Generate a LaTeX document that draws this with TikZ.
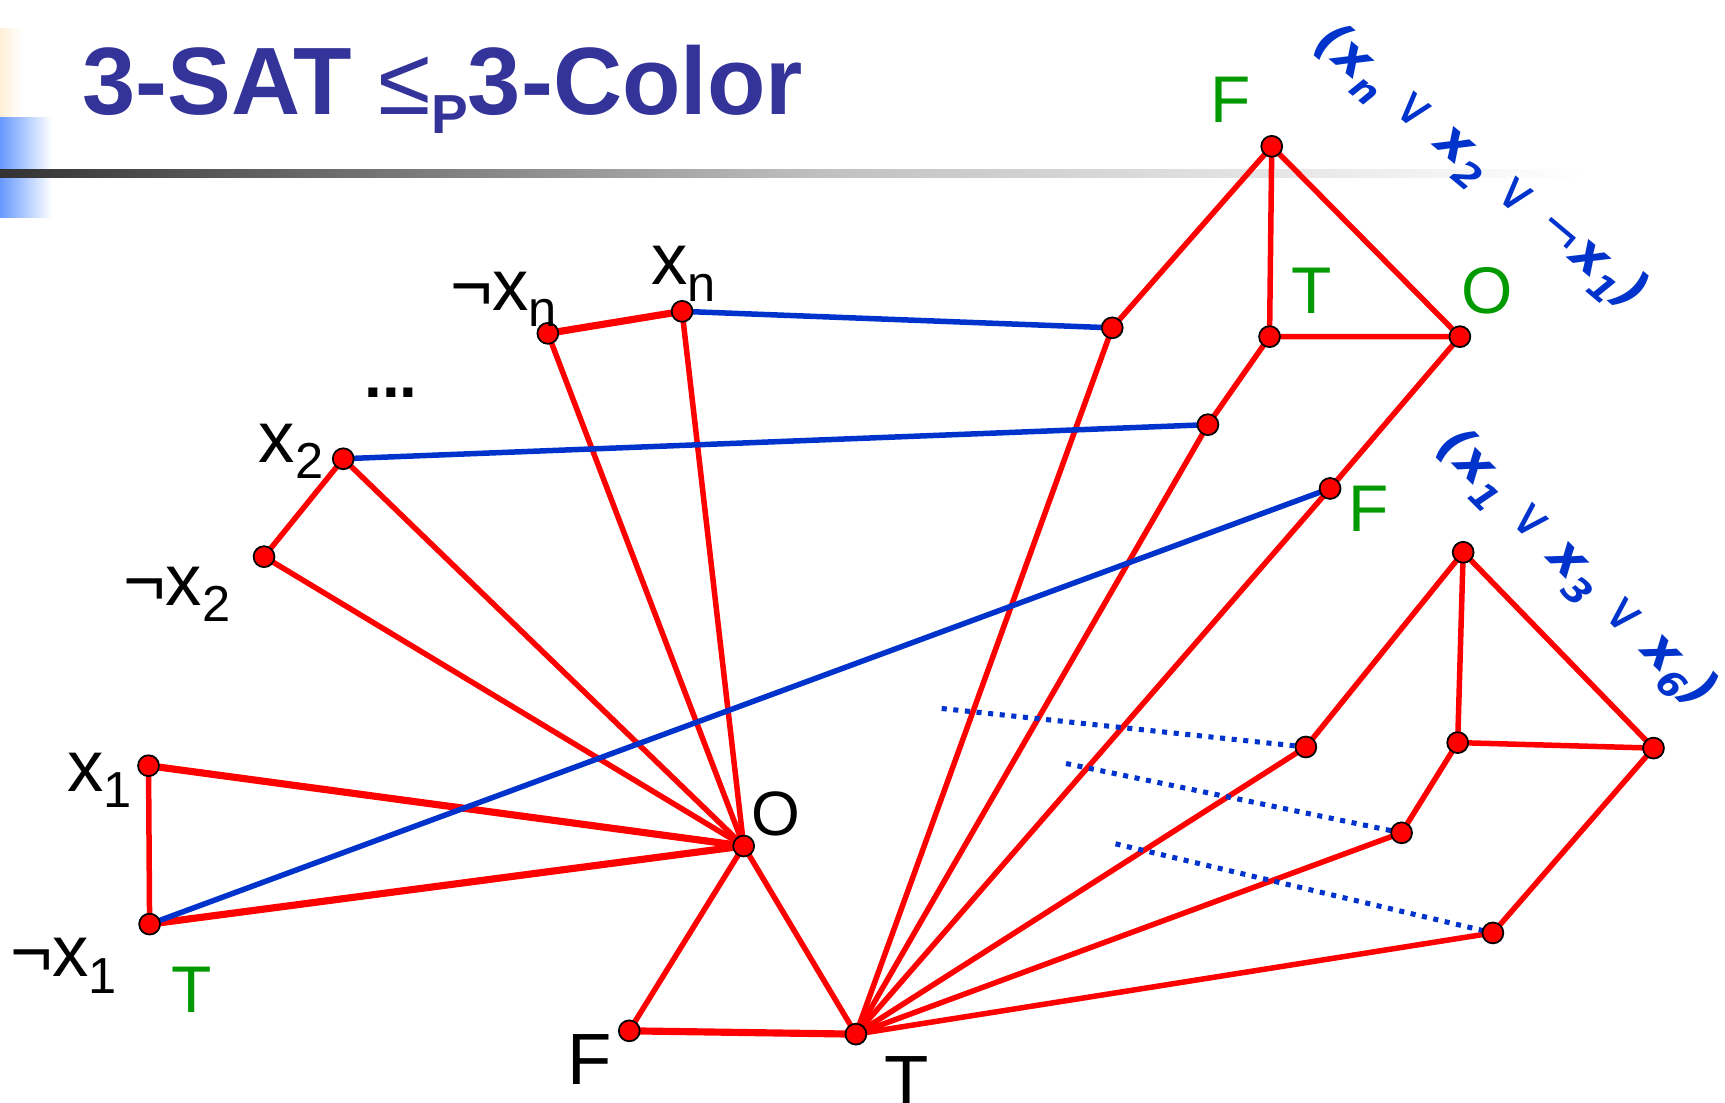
\documentclass[tikz,border=0pt]{standalone}
\usepackage{fontspec}
\setmainfont{Liberation Sans}
\newfontfamily\djv{DejaVu Sans}
\pgfdeclarelayer{bg}
\pgfsetlayers{bg,main}
\definecolor{tblue}{RGB}{51,51,153}
\definecolor{eblue}{RGB}{0,51,204}
\definecolor{lgreen}{RGB}{0,153,0}
\definecolor{beige}{RGB}{255,240,215}
\definecolor{skyb}{RGB}{102,153,255}
\definecolor{dgray}{RGB}{51,51,51}
\definecolor{mgray}{RGB}{192,192,192}
\newcommand{\sbx}[1]{\raisebox{-15pt}{\fontsize{46}{46}\selectfont #1}}
\newcommand{\sbb}[1]{\raisebox{-12pt}{\fontsize{33}{33}\selectfont #1}}
\newcommand{\vor}{{\mdseries\upshape ∨}}
\newcommand{\vneg}{{\mdseries\upshape ¬}}
\begin{document}
\begin{tikzpicture}[x=1pt,y=-1pt,
  vtx/.style={circle, fill=red, draw=black, line width=1.6pt, minimum size=19pt, inner sep=0pt},
  redl/.style={draw=red, line width=5pt},
  redt/.style={draw=red, line width=6.5pt},
  bluel/.style={draw=eblue, line width=5pt},
  dotl/.style={draw=eblue, line width=4.6pt, dash pattern=on 4.6pt off 6pt},
  lbl/.style={inner sep=0pt, anchor=base west, font=\fontsize{66}{70}\selectfont},
  olbl/.style={inner sep=0pt, anchor=base west, font=\fontsize{57}{60}\selectfont},
  glbl/.style={inner sep=0pt, anchor=base west, text=lgreen, font=\fontsize{60}{64}\selectfont},
  clause/.style={inner sep=0pt, text=eblue, font=\djv\bfseries\itshape\fontsize{47}{50}\selectfont}]
\useasboundingbox (0,0) rectangle (1568,1002);

% title
\node[anchor=base west, inner sep=0pt, text=tblue, font=\bfseries\fontsize{87}{90}\selectfont] (title) at (75,104)
  {3-SAT {\mdseries ≤}\raisebox{-17pt}{\fontsize{50}{50}\selectfont P}3-Color};

% vertices
\node[vtx] (nxn) at (498,303) {};
\node[vtx] (xn) at (620,283) {};
\node[vtx] (x2) at (312,417) {};
\node[vtx] (nx2) at (240,506) {};
\node[vtx] (x1) at (135,696) {};
\node[vtx] (nx1) at (136,840) {};
\node[vtx] (O) at (676,769) {};
\node[vtx] (F) at (572,937) {};
\node[vtx] (T) at (778,940) {};

\node[vtx] (aF) at (1156,133) {};
\node[vtx] (aT) at (1154,306) {};
\node[vtx] (aO) at (1327,306) {};
\node[vtx] (a1) at (1011,298) {};
\node[vtx] (a2) at (1098,386) {};
\node[vtx] (a3) at (1209,444) {};

\node[vtx] (bF) at (1330,502) {};
\node[vtx] (bT) at (1325,675) {};
\node[vtx] (bO) at (1503,680) {};
\node[vtx] (b1) at (1187,679) {};
\node[vtx] (b2) at (1274,757) {};
\node[vtx] (b3) at (1357,848) {};

\coordinate (d1) at (856,644);
\coordinate (d2) at (969,694);
\coordinate (d3) at (1014,767);

% labels
\node[lbl] (lnxn) at (409,282) {¬x\sbx{n}};
\node[lbl] (lxn) at (592,259) {x\sbx{n}};
\node[lbl, font=\bfseries\fontsize{58}{60}\selectfont] (ldots) at (331,361) {...};
\node[lbl] (lx2) at (235,420) {x\sbx{2}};
\node[lbl] (lnx2) at (112,550) {¬x\sbx{2}};
\node[lbl] (lx1) at (61,719) {x\sbx{1}};
\node[lbl] (lnx1) at (9,888) {¬x\sbx{1}};
\node[olbl] (lO) at (683,759) {O};
\node[lbl] (lF) at (516,986) {F};
\node[lbl] (lT) at (804,1006) {T};

\node[glbl] (gT1) at (156,920) {T};
\node[glbl] (gF1) at (1100,111) {F};
\node[glbl] (gT2) at (1174,285) {T};
\node[glbl] (gO2) at (1328,285) {O};
\node[glbl] (gF3) at (1226,483) {F};

\node[clause, rotate=-40] (c1) at (1345,153) {(x\sbb{n} \vor{} x\sbb{2} \vor{} \vneg x\sbb{1})};
\node[clause, rotate=-45] (c2) at (1432,518) {(x\sbb{1} \vor{} x\sbb{3} \vor{} x\sbb{6})};

\begin{pgfonlayer}{bg}
  \shade[left color=beige, right color=white] (0,26) rectangle (20,106);
  \shade[left color=skyb, right color=white] (0,107) rectangle (47,155);
  \shade[left color=skyb, right color=white] (0,162) rectangle (47,198);
  \shade[left color=dgray, right color=mgray] (0,154) rectangle (745,161);
  \shade[left color=mgray, right color=white] (745,154) rectangle (1440,161);

  % variable gadget
  \draw[redl] (O.center) -- (xn.center);
  \draw[redl] (O.center) -- (nxn.center);
  \draw[redl] (O.center) -- (x2.center);
  \draw[redl] (O.center) -- (nx2.center);
  \draw[redt] (O.center) -- (x1.center);
  \draw[redt] (O.center) -- (nx1.center);
  \draw[redl] (x1.center) -- (nx1.center);
  \draw[redl] (x2.center) -- (nx2.center);
  \draw[redt] (xn.center) -- (nxn.center);
  \draw[redl] (O.center) -- (F.center);
  \draw[redl] (O.center) -- (T.center);
  \draw[redt] (F.center) -- (T.center);
  % T to clause inputs
  \foreach \n in {a1,a2,a3,b1,b2,b3} \draw[redl] (T.center) -- (\n.center);
  % clause gadgets
  \draw[redl] (aF.center) -- (aT.center) -- (aO.center) -- cycle;
  \draw[redl] (aF.center) -- (a1.center);
  \draw[redl] (aT.center) -- (a2.center);
  \draw[redl] (aO.center) -- (a3.center);
  \draw[redl] (bF.center) -- (bT.center) -- (bO.center) -- cycle;
  \draw[redl] (bF.center) -- (b1.center);
  \draw[redl] (bT.center) -- (b2.center);
  \draw[redl] (bO.center) -- (b3.center);
  % blue
  \draw[bluel] (xn.center) -- (a1.center);
  \draw[bluel] (x2.center) -- (a2.center);
  \draw[bluel] (nx1.center) -- (a3.center);
  \draw[dotl] (d1) -- (b1.center);
  \draw[dotl] (d2) -- (b2.center);
  \draw[dotl] (d3) -- (b3.center);
\end{pgfonlayer}
\end{tikzpicture}
\end{document}
